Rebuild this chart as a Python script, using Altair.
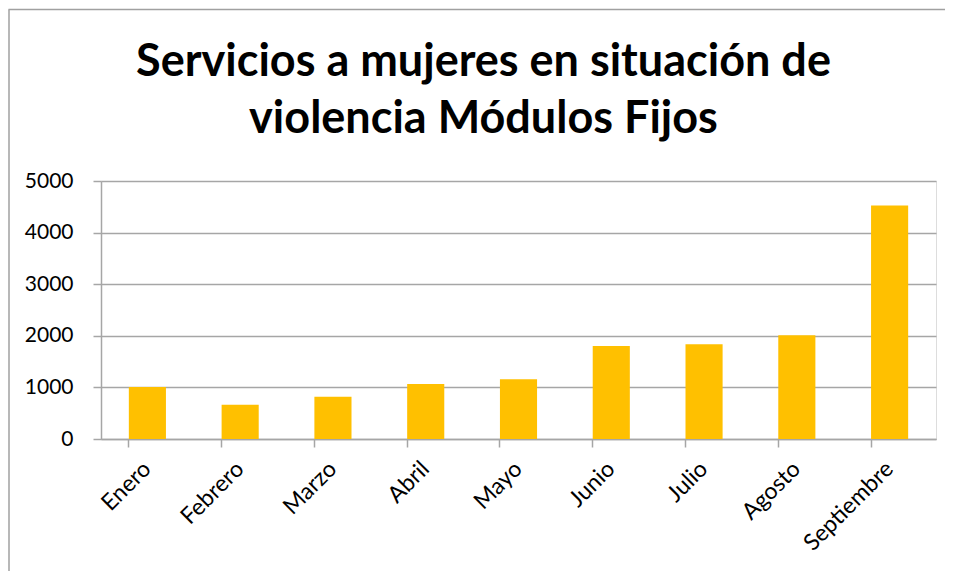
import altair as alt
import pandas as pd

meses = ["Enero", "Febrero", "Marzo", "Abril", "Mayo", "Junio", "Julio", "Agosto", "Septiembre"]
valores = [1010, 663, 818, 1064, 1160, 1800, 1837, 2011, 4526]
y_ticks = [0, 1000, 2000, 3000, 4000, 5000]
titulo = ["Servicios a mujeres en situación de", "violencia Módulos Fijos"]

df = pd.DataFrame({"mes": meses, "valor": valores})
df_titulo = pd.DataFrame({"t": [0]})

FONT = "Lato"
GRAY = "#A6A6A6"

bars = alt.Chart(df).mark_bar(color="#FFC000").encode(
    x=alt.X("mes:N", sort=meses, title=None,
            scale=alt.Scale(paddingInner=0.6, paddingOuter=0.3),
            axis=alt.Axis(bandPosition=0, labelAngle=-45,
                          labelAlign="right", labelBaseline="middle",
                          labelPadding=18, labelFontSize=23, labelFont=FONT,
                          labelColor="black", tickSize=8, tickColor=GRAY,
                          domainColor=GRAY, domainWidth=1.5, tickWidth=1.5)),
    y=alt.Y("valor:Q", title=None,
            scale=alt.Scale(domain=[0, 5000], nice=False),
            axis=alt.Axis(values=y_ticks, format="d", labelFontSize=21, labelFont=FONT,
                          labelColor="black", tickSize=8, tickColor=GRAY,
                          labelPadding=20, domainColor=GRAY, domainWidth=1.5,
                          tickWidth=1.5, gridColor=GRAY, gridWidth=1.5)),
)

title_text = alt.Chart(df_titulo).mark_text(
    fontSize=45, font=FONT, fontWeight="bold", color="black",
    align="center", baseline="alphabetic", lineHeight=57,
).encode(x=alt.value(382.5), y=alt.value(-105), text=alt.value(titulo))

border_top = alt.Chart(df_titulo).mark_rule(color="#A0A0A0", strokeWidth=1.5).encode(
    x=alt.value(-92.5), x2=alt.value(900), y=alt.value(-171.5))
border_left = alt.Chart(df_titulo).mark_rule(color="#A0A0A0", strokeWidth=1.5).encode(
    x=alt.value(-92), y=alt.value(-171.5), y2=alt.value(450))

chart = alt.layer(bars, title_text, border_top, border_left).properties(
    width=835, height=258,
    padding={"left": 93, "top": 173, "right": 9, "bottom": 132},
    autosize=alt.AutoSizeParams(type="none"),
).configure_view(stroke=None).configure(background="white")

chart.save("out.html", embed_options={"renderer": "svg", "actions": False})
